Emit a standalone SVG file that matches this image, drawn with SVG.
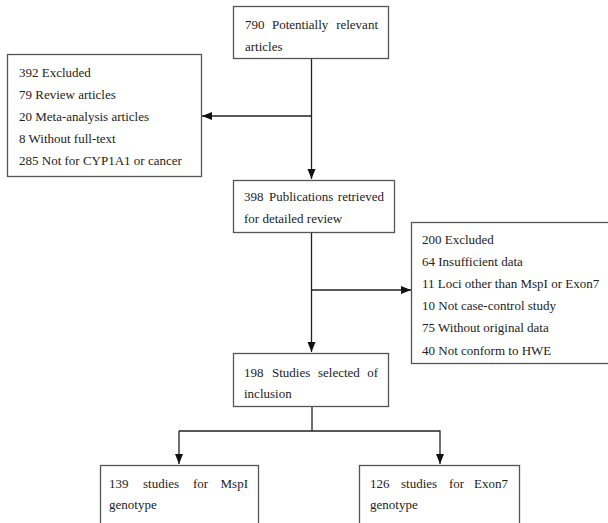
<svg xmlns="http://www.w3.org/2000/svg" width="608" height="523" viewBox="0 0 608 523">
<style>
.box{fill:#fff;stroke:#555;stroke-width:1.3}
text{font-family:'Liberation Serif','Times New Roman',serif;font-size:13px;fill:#222}
.e{text-anchor:end}
.c{fill:none;stroke:#222;stroke-width:1.3}
</style>
<defs>
<marker id="ah" viewBox="0 0 10 10" refX="10" refY="5" markerWidth="10" markerHeight="10" markerUnits="userSpaceOnUse" orient="auto">
<path d="M0,1 L10,5 L0,9 Z" fill="#111"/>
</marker>
</defs>
<rect width="608" height="523" fill="#fff"/>
<g id="connectors">
<line class="c" x1="311.5" y1="58" x2="311.5" y2="179" marker-end="url(#ah)"/>
<line class="c" x1="311.5" y1="116" x2="202" y2="116" marker-end="url(#ah)"/>
<line class="c" x1="311.5" y1="232" x2="311.5" y2="352" marker-end="url(#ah)"/>
<line class="c" x1="311.5" y1="290" x2="411" y2="290" marker-end="url(#ah)"/>
<polyline class="c" points="312,406 312,431"/>
<polyline class="c" points="179,431 440,431 440,464" marker-end="url(#ah)"/>
<line class="c" x1="179" y1="431" x2="179" y2="464" marker-end="url(#ah)"/>
</g>
<g id="n1">
<rect class="box" x="233.5" y="6.5" width="155" height="52"/>
<text x="245" y="29">790</text>
<text x="272" y="29">Potentially</text>
<text class="e" x="378" y="29">relevant</text>
<text x="245" y="51">articles</text>
</g>
<g id="n2">
<rect class="box" x="7.5" y="54.5" width="194" height="122"/>
<text x="19" y="77">392 Excluded</text>
<text x="19" y="99">79 Review articles</text>
<text x="19" y="121">20 Meta-analysis articles</text>
<text x="19" y="143">8 Without full-text</text>
<text x="19" y="165">285 Not for CYP1A1 or cancer</text>
</g>
<g id="n3">
<rect class="box" x="233.5" y="180.5" width="161" height="52"/>
<text x="244" y="201">398</text>
<text x="269" y="201">Publications</text>
<text class="e" x="384" y="201">retrieved</text>
<text x="244" y="223">for detailed review</text>
</g>
<g id="n4">
<rect class="box" x="411.5" y="222.5" width="200" height="141"/>
<text x="422" y="244">200 Excluded</text>
<text x="422" y="266">64 Insufficient data</text>
<text x="422" y="288">11 Loci other than MspI or Exon7</text>
<text x="422" y="310">10 Not case-control study</text>
<text x="422" y="332">75 Without original data</text>
<text x="422" y="355">40 Not conform to HWE</text>
</g>
<g id="n5">
<rect class="box" x="233.5" y="353.5" width="155" height="53"/>
<text x="244" y="377">198</text>
<text x="272" y="377">Studies</text>
<text x="318" y="377">selected</text>
<text class="e" x="378" y="377">of</text>
<text x="244" y="398">inclusion</text>
</g>
<g id="n6">
<rect class="box" x="100.5" y="465.5" width="158" height="70"/>
<text x="109" y="488">139</text>
<text x="143" y="488">studies</text>
<text x="193" y="488">for</text>
<text class="e" x="248" y="488">MspI</text>
<text x="109" y="509">genotype</text>
</g>
<g id="n7">
<rect class="box" x="359.5" y="465.5" width="160" height="70"/>
<text x="370" y="488">126</text>
<text x="401" y="488">studies</text>
<text x="449" y="488">for</text>
<text class="e" x="508" y="488">Exon7</text>
<text x="370" y="509">genotype</text>
</g>
</svg>
